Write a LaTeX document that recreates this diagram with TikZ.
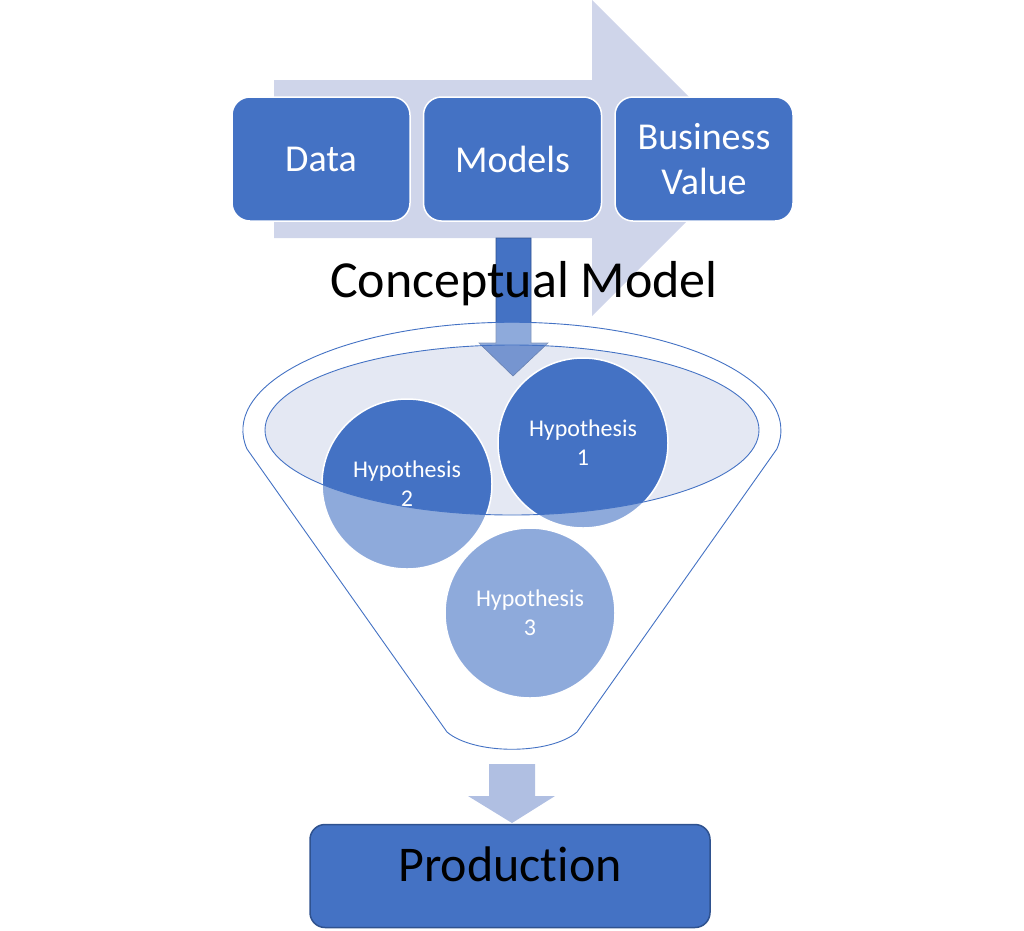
\documentclass[tikz,border=0pt]{standalone}
\usepackage{fontspec}
\setmainfont{Carlito}[Ligatures=NoCommon]
\usepackage{xcolor}
\usetikzlibrary{positioning}

\definecolor{accent}{HTML}{4472C4}
\definecolor{accentdark}{HTML}{2F528F}
\definecolor{flowlav}{HTML}{CFD5EA}
\definecolor{funnelfill}{RGB}{190,200,227}
\definecolor{droplight}{HTML}{B0BFE2}

\begin{document}
\begin{tikzpicture}[x=1pt,y=-1pt,
	stage/.style={draw=white,line width=1.5pt,fill=accent,rounded corners=18pt,
		minimum width=178pt,minimum height=124pt,inner sep=0pt,
		text=white,align=center,font=\fontsize{38}{45}\selectfont},
	hyp/.style={circle,draw=white,line width=1.5pt,fill=accent,
		minimum size=170pt,inner sep=0pt,
		text=white,align=center,font=\fontsize{24}{29}\selectfont},
	rim/.style={draw=accent,line width=0.9pt}]
	\useasboundingbox (0,0) rectangle (1024,930);

	% process arrow behind the stages
	\fill[flowlav] (274,80) -- (592,80) -- (592,0) -- (750,158)
		-- (592,316) -- (592,238) -- (274,238) -- cycle;

	\node[stage] (data) at (321,159) {Data};
	\node[stage, right=12pt of data] (models) {Models};
	\node[stage, right=12pt of models] (value) {Business\\Value};

	% down arrow into the funnel
	\filldraw[fill=accent, draw=accentdark, line width=0.6pt]
		(496,238) -- (531,238) -- (531,343) -- (548,343) -- (513,376)
		-- (479,343) -- (496,343) -- cycle;

	\node[anchor=base, font=\fontsize{52}{62}\selectfont] (concept)
		at (524,297) {Conceptual Model};

	% funnel mouth
	\fill[funnelfill, fill opacity=0.41] (512,430) ellipse [x radius=247, y radius=85];

	\node[hyp] (hyp1) at (583,443) {Hypothesis\\1};
	\node[hyp] (hyp2) at (407,484) {Hypothesis\\2};
	\node[hyp] (hyp3) at (530,613) {Hypothesis\\3};

	% funnel body, lighter over what is inside
	\fill[white, fill opacity=0.4, even odd rule]
		(247,449) arc [start angle=170, end angle=370, x radius=269, y radius=108]
		-- (577,732) .. controls (550,755) and (474,755) .. (447,732) -- cycle
		(512,430) ellipse [x radius=247, y radius=85];
	\draw[rim] (247,449) arc [start angle=170, end angle=370, x radius=269, y radius=108]
		-- (577,732) .. controls (550,755) and (474,755) .. (447,732) -- cycle;
	\draw[rim] (512,430) ellipse [x radius=247, y radius=85];

	% out to production
	\fill[droplight] (489,764) -- (535,764) -- (535,796) -- (555,796) -- (512,823)
		-- (468,796) -- (489,796) -- cycle;

	\node[draw=accentdark, line width=1.5pt, fill=accent, rounded corners=15pt,
		minimum width=400pt, minimum height=103pt, inner sep=0pt,
		text height=36pt, text depth=25pt, font=\fontsize{50}{60}\selectfont]
		(prod) at (510,876) {Production};
\end{tikzpicture}
\end{document}
